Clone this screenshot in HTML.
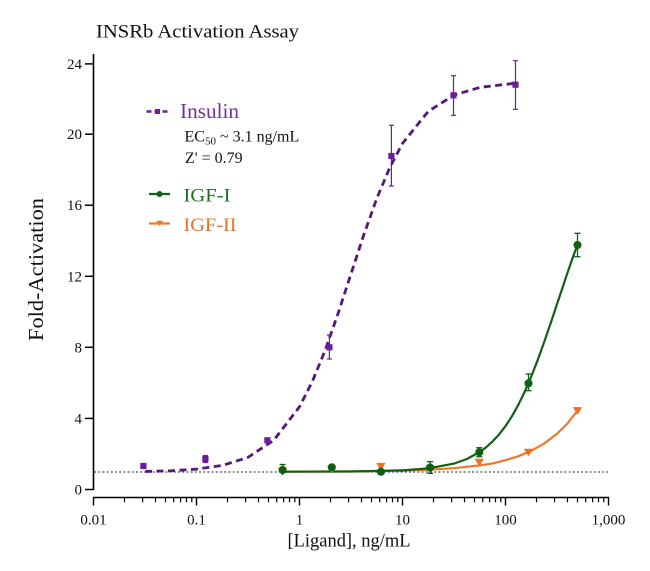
<!DOCTYPE html>
<html><head><meta charset="utf-8"><style>
html,body{margin:0;padding:0;background:#fff;}
svg{display:block;}
text{font-family:"Liberation Serif",serif;}
</style></head><body>
<svg width="650" height="571" viewBox="0 0 650 571" xmlns="http://www.w3.org/2000/svg">
<rect width="650" height="571" fill="#fff"/>
<text x="96" y="37.3" font-size="19" textLength="203" lengthAdjust="spacingAndGlyphs" fill="#111">INSRb Activation Assay</text>

<line x1="93.5" y1="54" x2="93.5" y2="490" stroke="#000" stroke-width="1.6"/>
<g stroke="#000" stroke-width="1.5">
<line x1="85" y1="489.5" x2="93.5" y2="489.5"/>
<line x1="85" y1="418.4" x2="93.5" y2="418.4"/>
<line x1="85" y1="347.3" x2="93.5" y2="347.3"/>
<line x1="85" y1="276.3" x2="93.5" y2="276.3"/>
<line x1="85" y1="205.2" x2="93.5" y2="205.2"/>
<line x1="85" y1="134.2" x2="93.5" y2="134.2"/>
<line x1="85" y1="63.9" x2="93.5" y2="63.9"/>
</g>
<g font-size="15" text-anchor="end" fill="#111">
<text x="82" y="494.5">0</text>
<text x="82" y="423.4">4</text>
<text x="82" y="352.3">8</text>
<text x="82" y="281.3">12</text>
<text x="82" y="210.2">16</text>
<text x="82" y="139.2">20</text>
<text x="82" y="68.9">24</text>
</g>
<text transform="translate(43,269.5) rotate(-90)" font-size="21" text-anchor="middle" textLength="143" lengthAdjust="spacingAndGlyphs" fill="#111">Fold-Activation</text>

<line x1="93" y1="497.5" x2="609" y2="497.5" stroke="#000" stroke-width="1.6"/>
<g stroke="#000" stroke-width="1.4">
<line x1="93.5" y1="497.5" x2="93.5" y2="505.5"/>
<line x1="196.5" y1="497.5" x2="196.5" y2="505.5"/>
<line x1="299.5" y1="497.5" x2="299.5" y2="505.5"/>
<line x1="402.5" y1="497.5" x2="402.5" y2="505.5"/>
<line x1="505.5" y1="497.5" x2="505.5" y2="505.5"/>
<line x1="608.5" y1="497.5" x2="608.5" y2="505.5"/>
</g>
<g stroke="#000" stroke-width="1.2">
<line x1="124.5" y1="497.5" x2="124.5" y2="502.3"/><line x1="142.6" y1="497.5" x2="142.6" y2="502.3"/><line x1="155.5" y1="497.5" x2="155.5" y2="502.3"/><line x1="165.5" y1="497.5" x2="165.5" y2="502.3"/><line x1="173.7" y1="497.5" x2="173.7" y2="502.3"/><line x1="180.6" y1="497.5" x2="180.6" y2="502.3"/><line x1="186.5" y1="497.5" x2="186.5" y2="502.3"/><line x1="191.8" y1="497.5" x2="191.8" y2="502.3"/>
<line x1="227.5" y1="497.5" x2="227.5" y2="502.3"/><line x1="245.6" y1="497.5" x2="245.6" y2="502.3"/><line x1="258.5" y1="497.5" x2="258.5" y2="502.3"/><line x1="268.5" y1="497.5" x2="268.5" y2="502.3"/><line x1="276.7" y1="497.5" x2="276.7" y2="502.3"/><line x1="283.6" y1="497.5" x2="283.6" y2="502.3"/><line x1="289.5" y1="497.5" x2="289.5" y2="502.3"/><line x1="294.8" y1="497.5" x2="294.8" y2="502.3"/>
<line x1="330.5" y1="497.5" x2="330.5" y2="502.3"/><line x1="348.6" y1="497.5" x2="348.6" y2="502.3"/><line x1="361.5" y1="497.5" x2="361.5" y2="502.3"/><line x1="371.5" y1="497.5" x2="371.5" y2="502.3"/><line x1="379.7" y1="497.5" x2="379.7" y2="502.3"/><line x1="386.6" y1="497.5" x2="386.6" y2="502.3"/><line x1="392.5" y1="497.5" x2="392.5" y2="502.3"/><line x1="397.8" y1="497.5" x2="397.8" y2="502.3"/>
<line x1="433.5" y1="497.5" x2="433.5" y2="502.3"/><line x1="451.6" y1="497.5" x2="451.6" y2="502.3"/><line x1="464.5" y1="497.5" x2="464.5" y2="502.3"/><line x1="474.5" y1="497.5" x2="474.5" y2="502.3"/><line x1="482.7" y1="497.5" x2="482.7" y2="502.3"/><line x1="489.6" y1="497.5" x2="489.6" y2="502.3"/><line x1="495.5" y1="497.5" x2="495.5" y2="502.3"/><line x1="500.8" y1="497.5" x2="500.8" y2="502.3"/>
<line x1="536.5" y1="497.5" x2="536.5" y2="502.3"/><line x1="554.6" y1="497.5" x2="554.6" y2="502.3"/><line x1="567.5" y1="497.5" x2="567.5" y2="502.3"/><line x1="577.5" y1="497.5" x2="577.5" y2="502.3"/><line x1="585.7" y1="497.5" x2="585.7" y2="502.3"/><line x1="592.6" y1="497.5" x2="592.6" y2="502.3"/><line x1="598.5" y1="497.5" x2="598.5" y2="502.3"/><line x1="603.8" y1="497.5" x2="603.8" y2="502.3"/>
</g>
<g font-size="15" text-anchor="middle" fill="#111">
<text x="93.5" y="524.3">0.01</text>
<text x="196.5" y="524.3">0.1</text>
<text x="299.5" y="524.3">1</text>
<text x="402.5" y="524.3">10</text>
<text x="505.5" y="524.3">100</text>
<text x="608.5" y="524.3">1,000</text>
</g>
<text x="349" y="546.5" font-size="19" text-anchor="middle" textLength="123" lengthAdjust="spacingAndGlyphs" fill="#111">[Ligand], ng/mL</text>

<line x1="94" y1="472" x2="608" y2="472" stroke="#222" stroke-width="1.1" stroke-dasharray="2,2.2"/>

<polyline fill="none" stroke="#f07828" stroke-width="2.2" stroke-linejoin="round" points="282.6,471.7 351,471.4 402.5,470.4 428.25,469.8 454,468.2 479.75,465.4 492.6,463.4 505.5,460.2 518.4,456.2 531.25,450.8 544.1,443.6 557,433.8 567.3,423.6 577.5,410.8"/>
<polyline fill="none" stroke="#126012" stroke-width="2.2" stroke-linejoin="round" points="282.6,471.7 351,471.5 402.5,470.4 428.25,468.4 454,463.6 466.9,459.0 479.75,451.95 486.2,447.2 492.6,441.4 499.1,434.45 505.5,426.1 512,416.2 518.4,404.7 524.8,391.5 531.25,376.5 537.7,360.05 544.1,342.2 550.6,323.4 557,304.1 562.2,288.6 567.3,273.3 572.4,258.5 577.5,244.8"/>
<polyline fill="none" stroke="#55187a" stroke-width="2.8" stroke-dasharray="7,4.5" stroke-linejoin="round" points="145,471.5 171.25,470.77 196.5,469.13 222.25,465.45 248,457.37 273.75,440.28 299.5,406.78 312.375,381.48 325.25,349.99 338.125,313.38 351,273.88 363.875,234.57 376.75,198.58 389.625,167.89 402.5,143.4 428.25,111.35 454,95.08 479.75,87.4 515.5,83.18"/>

<g fill="#f07020" stroke="#f07020" stroke-width="1.2">
<path d="M279,468.5 L286.2,468.5 L282.6,474.5 Z"/>
<path d="M328.2,466.5 L335.4,466.5 L331.8,472.5 Z"/>
<path d="M377.3,463.5 L384.5,463.5 L380.9,469.5 Z"/>
<path d="M426.5,466 L433.7,466 L430.1,472 Z"/>
<path d="M475.7,459.3 L482.9,459.3 L479.3,465.3 Z"/>
<path d="M524.9,449.3 L532.1,449.3 L528.5,455.3 Z"/>
<path d="M573.9,407.7 L581.1,407.7 L577.5,413.7 Z"/>
<line x1="577.5" y1="408" x2="577.5" y2="413.5"/><line x1="574.5" y1="408" x2="580.5" y2="408"/>
</g>
<g fill="#0f5f14" stroke="#0f5f14" stroke-width="1.3">
<circle cx="282.6" cy="470" r="3.4"/>
<line x1="282.6" y1="464.5" x2="282.6" y2="475"/><line x1="279.6" y1="464.5" x2="285.6" y2="464.5"/>
<circle cx="331.8" cy="467.3" r="3.4"/>
<circle cx="380.9" cy="471.7" r="3.4"/>
<circle cx="430.1" cy="467.5" r="3.4"/>
<line x1="430.1" y1="461.7" x2="430.1" y2="473.3"/><line x1="427.1" y1="461.7" x2="433.1" y2="461.7"/><line x1="427.1" y1="473.3" x2="433.1" y2="473.3"/>
<circle cx="479.3" cy="452.3" r="3.4"/>
<line x1="479.3" y1="447.7" x2="479.3" y2="456.7"/><line x1="476.3" y1="447.7" x2="482.3" y2="447.7"/><line x1="476.3" y1="456.7" x2="482.3" y2="456.7"/>
<circle cx="528.5" cy="383.3" r="3.4"/>
<line x1="528.5" y1="374" x2="528.5" y2="390.7"/><line x1="525.5" y1="374" x2="531.5" y2="374"/><line x1="525.5" y1="390.7" x2="531.5" y2="390.7"/>
<circle cx="577.5" cy="245" r="3.4"/>
<line x1="577.5" y1="233.3" x2="577.5" y2="256.7"/><line x1="574.5" y1="233.3" x2="580.5" y2="233.3"/><line x1="574.5" y1="256.7" x2="580.5" y2="256.7"/>
</g>
<g fill="#6a1e9c" stroke="#6a1e9c" stroke-width="1.2">
<rect x="140.9" y="463.5" width="5" height="5"/>
<rect x="202.9" y="456.5" width="5" height="5"/>
<line x1="205.4" y1="455.5" x2="205.4" y2="462.5"/><line x1="202.9" y1="455.5" x2="207.9" y2="455.5"/><line x1="202.9" y1="462.5" x2="207.9" y2="462.5"/>
<rect x="264.9" y="437.8" width="5" height="5"/>
<rect x="326.9" y="344.8" width="5" height="5"/>
<line x1="329.4" y1="335" x2="329.4" y2="359"/><line x1="326.9" y1="335" x2="331.9" y2="335"/><line x1="326.9" y1="359" x2="331.9" y2="359"/>
<rect x="388.9" y="153.5" width="5" height="5"/>
<line x1="391.4" y1="125.3" x2="391.4" y2="186"/><line x1="388.9" y1="125.3" x2="393.9" y2="125.3"/><line x1="388.9" y1="186" x2="393.9" y2="186"/>
<rect x="451" y="92.8" width="5" height="5"/>
<line x1="453.5" y1="75.7" x2="453.5" y2="115.3"/><line x1="451" y1="75.7" x2="456" y2="75.7"/><line x1="451" y1="115.3" x2="456" y2="115.3"/>
<rect x="513" y="82.2" width="5" height="5"/>
<line x1="515.5" y1="60.7" x2="515.5" y2="109.3"/><line x1="513" y1="60.7" x2="518" y2="60.7"/><line x1="513" y1="109.3" x2="518" y2="109.3"/>
</g>

<line x1="146.5" y1="111.5" x2="168" y2="111.5" stroke="#6a1e9c" stroke-width="2.4" stroke-dasharray="5,3"/>
<rect x="155" y="109" width="5" height="5" fill="#6a1e9c"/>
<text x="180" y="118" font-size="21" fill="#7030a0" textLength="59" lengthAdjust="spacingAndGlyphs">Insulin</text>
<text x="184.5" y="141.5" font-size="16" fill="#111">EC<tspan font-size="11" dy="3">50</tspan><tspan dy="-3"> ~ 3.1 ng/mL</tspan></text>
<text x="185" y="163" font-size="16" fill="#111">Z' = 0.79</text>

<line x1="149" y1="194" x2="170" y2="194" stroke="#126012" stroke-width="2.2"/>
<circle cx="159.5" cy="194" r="3" fill="#126012"/>
<text x="183.5" y="201.5" font-size="19" fill="#1f6f22" textLength="47" lengthAdjust="spacingAndGlyphs">IGF-I</text>

<line x1="149" y1="223.5" x2="170" y2="223.5" stroke="#f07828" stroke-width="2.2"/>
<path d="M156.3,220.8 L163,220.8 L159.6,226 Z" fill="#f07020"/>
<text x="183.5" y="231" font-size="19" fill="#e8722a" textLength="53" lengthAdjust="spacingAndGlyphs">IGF-II</text>
</svg>
</body></html>
